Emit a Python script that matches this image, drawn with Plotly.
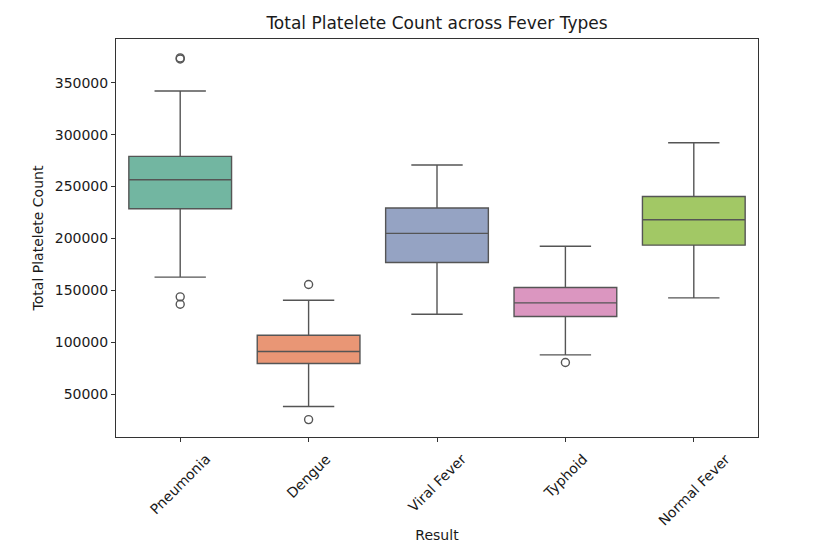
import colorsys
import plotly.graph_objects as go

# ---- data ----
categories = ["Pneumonia", "Dengue", "Viral Fever", "Typhoid", "Normal Fever"]
q1_vals = [228600, 79600, 176900, 124900, 193600]
median_vals = [256500, 91200, 204900, 138000, 218000]
q3_vals = [279100, 106900, 229300, 152800, 240500]
lower_whisker = [162800, 38200, 127100, 87900, 142800]
upper_whisker = [342000, 140600, 270700, 192600, 292200]
outliers = [
    [372800, 373900, 143800, 136700],
    [155700, 25600],
    [],
    [80600],
    [],
]
y_ticks = [50000, 100000, 150000, 200000, 250000, 300000, 350000]

# ---- style ----
set2 = ["#66c2a5", "#fc8d62", "#8da0cb", "#e78ac3", "#a6d854"]


def desaturate(hexcol, prop=0.75):
    r, g, b = (int(hexcol[i:i + 2], 16) / 255 for i in (1, 3, 5))
    h, l, s = colorsys.rgb_to_hls(r, g, b)
    r, g, b = colorsys.hls_to_rgb(h, l, s * prop)
    return "rgb(%d,%d,%d)" % (round(r * 255), round(g * 255), round(b * 255))


colors = [desaturate(c) for c in set2]
line_col = "#555555"
font_family = "DejaVu Sans"

fig = go.Figure()
for i, cat in enumerate(categories):
    fig.add_trace(go.Box(
        x=[cat],
        q1=[q1_vals[i]],
        median=[median_vals[i]],
        q3=[q3_vals[i]],
        lowerfence=[lower_whisker[i]],
        upperfence=[upper_whisker[i]],
        width=0.8,
        whiskerwidth=0.5,
        fillcolor=colors[i],
        line=dict(color=line_col, width=1.4),
        boxpoints=False,
        showlegend=False,
        name=cat,
    ))
    if outliers[i]:
        fig.add_trace(go.Scatter(
            x=[cat] * len(outliers[i]),
            y=outliers[i],
            mode="markers",
            marker=dict(symbol="circle-open", size=8, color=line_col,
                        line=dict(width=1.4, color=line_col)),
            showlegend=False,
            hoverinfo="y",
        ))

# rotated, centred tick labels as annotations (matplotlib-style)
annotations = []
for cat in categories:
    annotations.append(dict(
        x=cat, xref="x", y=0, yref="paper",
        text=cat, showarrow=False, textangle=-45,
        xanchor="center", yanchor="top", yshift=-11,
        font=dict(family=font_family, size=14, color="#1a1a1a"),
    ))

fig.update_layout(
    width=820, height=543,
    margin=dict(l=116, r=62, t=39, b=106),
    paper_bgcolor="white", plot_bgcolor="white",
    font=dict(family=font_family, size=14, color="#1a1a1a"),
    title=dict(text="Total Platelete Count across Fever Types",
               x=0.5, xref="paper", y=1 - 23.5 / 543, yref="container",
               xanchor="center", yanchor="middle",
               font=dict(family=font_family, size=17, color="#1a1a1a")),
    annotations=annotations,
    boxmode="overlay",
)
fig.update_xaxes(
    type="category", categoryorder="array", categoryarray=categories,
    range=[-0.5, 4.5],
    showline=True, mirror=True, linecolor="#333333", linewidth=1,
    ticks="outside", ticklen=4, tickcolor="#333333", tickwidth=1,
    showticklabels=False, showgrid=False, zeroline=False,
    title=dict(text="Result", standoff=91,
               font=dict(family=font_family, size=14, color="#1a1a1a")),
    automargin=False,
)
fig.update_yaxes(
    range=[8850, 392100],
    tickmode="array", tickvals=y_ticks, ticktext=[str(v) for v in y_ticks],
    showline=True, mirror=True, linecolor="#333333", linewidth=1,
    ticks="outside", ticklen=4, tickcolor="#333333", tickwidth=1,
    showgrid=False, zeroline=False,
    tickfont=dict(family=font_family, size=14, color="#1a1a1a"),
    title=dict(text="Total Platelete Count", standoff=7,
               font=dict(family=font_family, size=14, color="#1a1a1a")),
    automargin=False,
)

fig.write_html(
    "out.html",
    config={"displayModeBar": False},
    post_script="document.body.style.margin='0';document.body.style.overflow='hidden';",
)
